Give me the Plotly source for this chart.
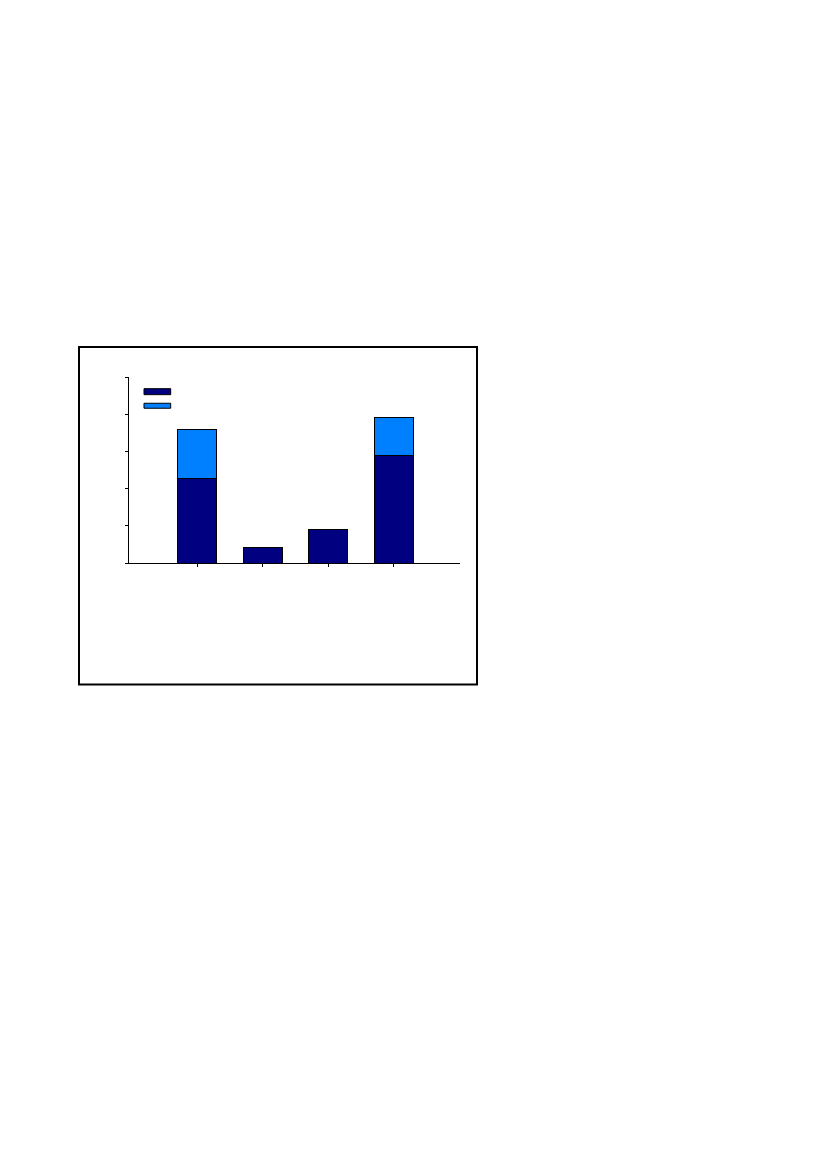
import plotly.graph_objects as go

categories = ["Cat 1", "Cat 2", "Cat 3", "Cat 4"]
series_names = ["Series 1", "Series 2"]
series1 = [2.28, 0.41, 0.91, 2.90]
series2 = [1.32, 0.0, 0.0, 1.00]
y_ticks = [0, 1, 2, 3, 4, 5]

DARK = "#000080"
LIGHT = "#0080FF"

fig = go.Figure()
fig.add_trace(go.Bar(x=categories, y=series1, name=series_names[0], width=0.6,
                     marker=dict(color=DARK, line=dict(color="black", width=1))))
fig.add_trace(go.Bar(x=categories, y=series2, name=series_names[1], width=0.6,
                     marker=dict(color=LIGHT, line=dict(color="black", width=1))))

OFF = 8  # page body offset
L, R, T, B = 129, 460, 377, 563.3  # plot area in page pixels
W, H = 827 - OFF, 1169 - OFF
pw, ph = R - L, B - T

def px(x):
    return (x - L) / pw

def py(y):
    return (B - y) / ph

shapes = [
    dict(type="rect", xref="paper", yref="paper", x0=px(79), x1=px(477), y0=py(685), y1=py(347),
         line=dict(color="black", width=2), fillcolor="rgba(0,0,0,0)", layer="below"),
    dict(type="rect", xref="paper", yref="paper", x0=px(144), x1=px(170.7), y0=py(394.7), y1=py(388.7),
         line=dict(color="black", width=1), fillcolor=DARK),
    dict(type="rect", xref="paper", yref="paper", x0=px(144), x1=px(170.7), y0=py(408.3), y1=py(403.3),
         line=dict(color="black", width=1), fillcolor=LIGHT),
]

fig.update_layout(
    barmode="stack",
    width=W, height=H,
    margin=dict(l=L - OFF, r=W - (R - OFF), t=T - OFF, b=H - (B - OFF), pad=0),
    paper_bgcolor="white", plot_bgcolor="white",
    showlegend=False,
    shapes=shapes,
    xaxis=dict(range=[-1.04, 4.01], showline=True, linecolor="black", linewidth=1,
               ticks="outside", ticklen=3, tickcolor="black", showticklabels=False,
               showgrid=False, zeroline=False),
    yaxis=dict(range=[0, 5], tickvals=y_ticks, showline=True, linecolor="black", linewidth=1,
               ticks="outside", ticklen=3, tickcolor="black", showticklabels=False,
               showgrid=False, zeroline=False),
)

fig.write_html("out.html")
